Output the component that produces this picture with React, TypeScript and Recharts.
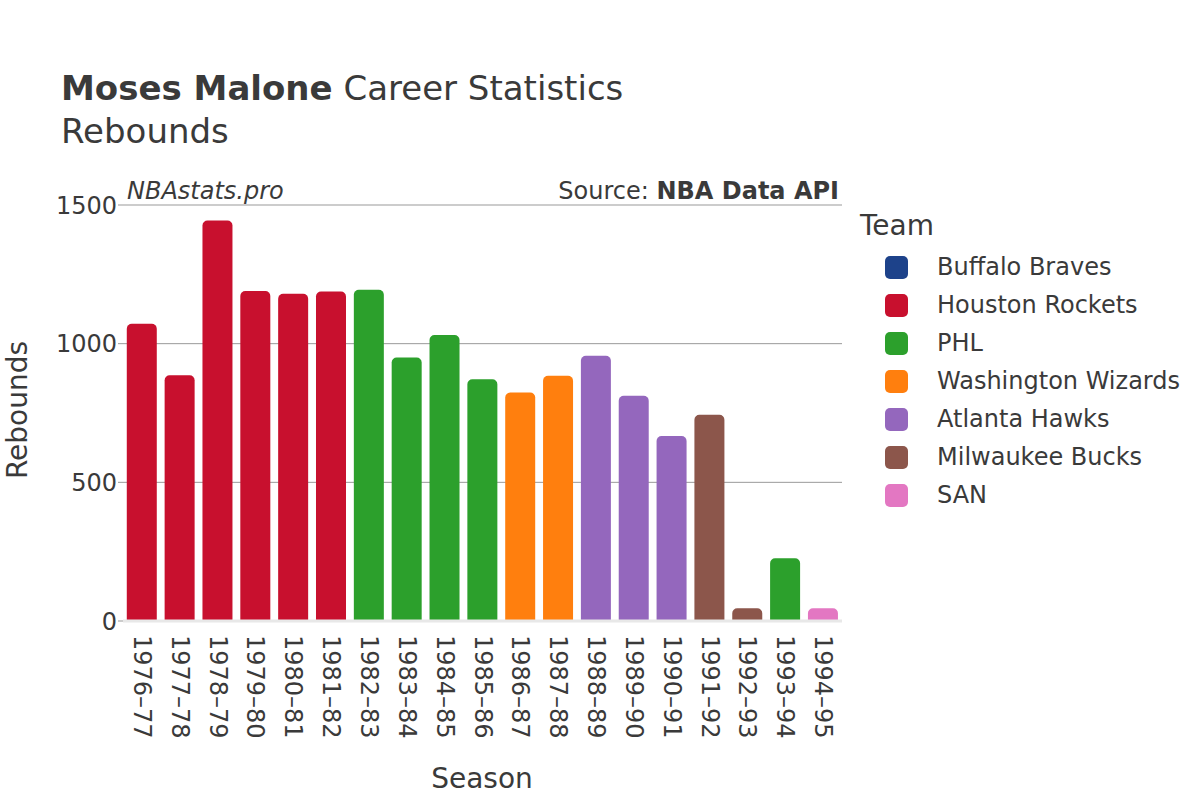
import { Bar, BarChart, CartesianGrid, ReferenceLine, XAxis, YAxis } from "recharts";

const seasons = [
	"1976–77", "1977–78", "1978–79", "1979–80", "1980–81", "1981–82", "1982–83",
	"1983–84", "1984–85", "1985–86", "1986–87", "1987–88", "1988–89", "1989–90",
	"1990–91", "1991–92", "1992–93", "1993–94", "1994–95",
];

const seasonTeams = [
	"Houston Rockets", "Houston Rockets", "Houston Rockets", "Houston Rockets",
	"Houston Rockets", "Houston Rockets", "PHL", "PHL", "PHL", "PHL",
	"Washington Wizards", "Washington Wizards", "Atlanta Hawks", "Atlanta Hawks",
	"Atlanta Hawks", "Milwaukee Bucks", "Milwaukee Bucks", "PHL", "SAN",
];

const rebounds = [
	1072, 886, 1444, 1190, 1180, 1188, 1194, 950, 1031, 872, 824, 884, 956, 812,
	667, 744, 46, 226, 46,
];

const teams = [
	"Buffalo Braves", "Houston Rockets", "PHL", "Washington Wizards",
	"Atlanta Hawks", "Milwaukee Bucks", "SAN",
];

const teamColors = [
	"#1d428a", "#c8102e", "#2ca02c", "#ff7f0e", "#9467bd", "#8c564b", "#e377c2",
];

const yTicks = [0, 500, 1000, 1500];

const font = "'DejaVu Sans', sans-serif";
const textColor = "#3a3a3a";

const data = seasons.map((season, i) => {
	const row: Record<string, string | number | null> = { season };
	teams.forEach((t) => {
		row[t] = seasonTeams[i] === t ? rebounds[i] : null;
	});
	return row;
});

function SeasonTick({ x, y, payload }: any) {
	return (
		<text
			x={x}
			y={y}
			transform={`rotate(90, ${x}, ${y})`}
			dx={6}
			dy={8}
			textAnchor="start"
			fontSize={24}
			fill={textColor}
			fontFamily={font}
		>
			{payload.value}
		</text>
	);
}

export default function App() {
	return (
		<div
			style={{
				position: "absolute",
				left: 0,
				top: 0,
				width: 1200,
				height: 800,
				background: "#fff",
				fontFamily: font,
				color: textColor,
			}}
		>
			<div style={{ position: "absolute", left: 61, top: 67, fontSize: 34, lineHeight: "43px" }}>
				<b>Moses Malone</b> Career Statistics
				<br />
				Rebounds
			</div>
			<div
				style={{ position: "absolute", left: 127, top: 177, fontSize: 24, fontStyle: "italic" }}
			>
				NBAstats.pro
			</div>
			<div style={{ position: "absolute", right: 1200 - 839, top: 177, fontSize: 24 }}>
				Source: <b>NBA Data API</b>
			</div>
			<div
				style={{
					position: "absolute",
					left: 17,
					top: 410,
					fontSize: 28,
					transform: "translate(-50%, -50%) rotate(-90deg)",
					whiteSpace: "nowrap",
				}}
			>
				Rebounds
			</div>
			<div
				style={{
					position: "absolute",
					left: 482,
					top: 778,
					fontSize: 28,
					transform: "translate(-50%, -50%)",
				}}
			>
				Season
			</div>
			<div style={{ position: "absolute", left: 860, top: 209, fontSize: 28 }}>Team</div>
			{teams.map((t, i) => (
				<div
					key={t}
					style={{
						position: "absolute",
						left: 885,
						top: 255 + i * 38,
						height: 24,
						display: "flex",
						alignItems: "center",
						fontSize: 24,
					}}
				>
					<span
						style={{
							display: "inline-block",
							width: 23,
							height: 23,
							borderRadius: 5,
							background: teamColors[i],
							marginRight: 29,
						}}
					/>
					{t}
				</div>
			))}
			<BarChart
				width={1200}
				height={800}
				data={data}
				margin={{ top: 205, right: 358, bottom: 0, left: 0 }}
				barCategoryGap="10%"
				style={{ position: "absolute", left: 0, top: 0 }}
			>
				<CartesianGrid vertical={false} stroke="#999" strokeWidth={1} />
				<XAxis
					dataKey="season"
					height={179}
					axisLine={false}
					tickLine={false}
					interval={0}
					tick={<SeasonTick />}
				/>
				<YAxis
					width={123}
					domain={[0, 1500]}
					ticks={yTicks}
					axisLine={false}
					tickLine={{ stroke: "#999" }}
					tickSize={5}
					tickMargin={1}
					tick={{ fontSize: 24, fill: textColor, fontFamily: font }}
				/>
				{teams.map((t, i) => (
					<Bar
						key={t}
						dataKey={t}
						stackId="a"
						fill={teamColors[i]}
						radius={[5, 5, 0, 0]}
						isAnimationActive={false}
					/>
				))}
				<ReferenceLine y={0} stroke="#e8e8e8" strokeWidth={3} />
			</BarChart>
		</div>
	);
}
